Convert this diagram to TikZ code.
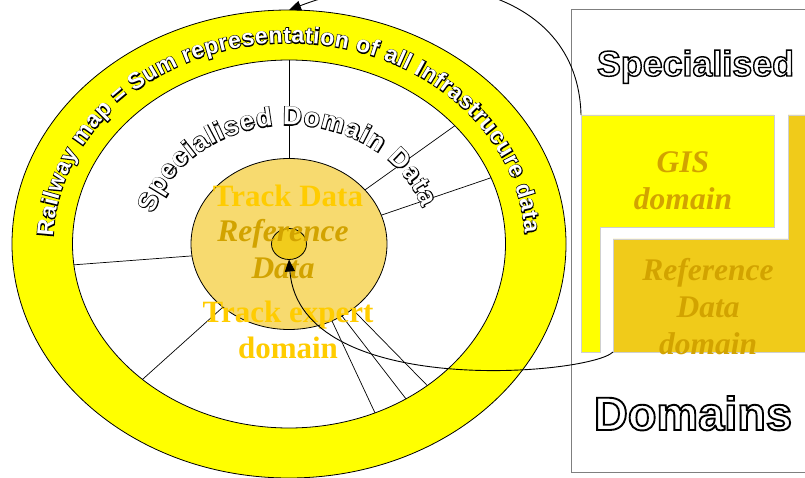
\documentclass[tikz,border=0pt]{standalone}
\usepackage{fontspec}
\setmainfont{Liberation Serif}
\newfontfamily\outlinesans{Liberation Sans Bold}[FakeBold=4]
\newfontfamily\haloarc{Liberation Sans Bold}[FakeBold=7]
\newfontfamily\plainarc{Liberation Sans Bold}
\usetikzlibrary{shapes.geometric,decorations.text,arrows.meta}

\definecolor{ringyellow}{HTML}{FFFF00}
\definecolor{trackfill}{HTML}{F7DA6F}
\definecolor{corefill}{HTML}{F1CC1C}
\definecolor{refboxfill}{HTML}{F0CB1A}
\definecolor{goldtext}{HTML}{FFCC00}
\definecolor{darkgold}{HTML}{D2A300}
\definecolor{framegray}{HTML}{7F7F7F}
\definecolor{edgegray}{HTML}{CFCFCF}

% glyph outlines are stroked in black while the fill stays white
\newcommand\blackstroke{\special{pdf:literal direct 0 0 0 RG}}

% outlined lettering set along an elliptic arc round (C):
% a heavy black pass underneath, then the white letters on top
% #1 font size, #2 x radius, #3 y radius, #4 start angle, #5 end angle, #6 text
\newcommand\arclabel[6]{%
  \path[decorate, decoration={text along path,
      text={|\haloarc\fontsize{#1}{#1}\selectfont|#6},
      text align={fit to path}, text color=black}]
    ([shift={(#4:#2 and #3)}]C)
    arc[start angle=#4, end angle=#5, x radius=#2, y radius=#3];
  \path[decorate, decoration={text along path,
      text={|\plainarc\fontsize{#1}{#1}\selectfont|#6},
      text align={fit to path}, text color=white}]
    ([shift={(#4:#2 and #3)}]C)
    arc[start angle=#4, end angle=#5, x radius=#2, y radius=#3];
}

\tikzset{
  ringshape/.style={ellipse, draw=black, line width=0.8pt, inner sep=0pt, outer sep=0pt},
  spoke/.style={draw=black, line width=0.7pt},
  goldlabel/.style={text=goldtext, font=\bfseries\fontsize{31pt}{36pt}\selectfont, align=center, inner sep=0pt},
  reflabel/.style={text=darkgold, font=\bfseries\itshape\fontsize{31.5pt}{37pt}\selectfont, align=center, inner sep=0pt},
  linkarrow/.style={draw=black, line width=0.9pt, -{Triangle[length=12pt,width=10pt]}},
  domainbox/.style={draw=edgegray, line width=0.6pt},
  outlinetitle/.style={text=white, inner sep=0pt, anchor=base}
}

\begin{document}
\begin{tikzpicture}[x=1pt,y=1pt]
\useasboundingbox (0,0) rectangle (805,477);
\coordinate (C) at (289,233);

% nested rings of the railway map
\node[ringshape, fill=ringyellow, minimum width=554pt, minimum height=468pt] (ring) at (C) {};
\node[ringshape, fill=white, minimum width=433pt, minimum height=368pt] (sector) at (C) {};

% spokes separating the specialised domains
\foreach \a/\b in {90/90, 39.2/40, 19.7/21.1, 188/186.5, 227.6/227.4, -64/-66.6, -57.3/-57.3, -49.7/-50.3}
  \draw[spoke] ([shift={(\a:98 and 85.5)}]C) -- ([shift={(\b:216.5 and 184)}]C);

\node[ringshape, fill=trackfill, minimum width=196pt, minimum height=171pt] (track) at (C) {};
\node[ringshape, fill=corefill, minimum width=35pt, minimum height=31pt] (core) at (C) {};

% curved captions
\arclabel{23pt}{236}{201}{178}{3}{Railway map = Sum representation of all Infrastrucure data}
\arclabel{26pt}{140}{119}{165}{18}{Specialised Domain Data}

% labels in the centre
\node[goldlabel, anchor=base] (trackdata) at (288,270) {Track Data};
\node[reflabel] (refdata) at (283,228) {Reference\\Data};
\node[goldlabel] (trackexpert) at (288,147.5) {Track expert\\domain};

% domain panel on the right
\draw[draw=framegray, line width=1pt] (571,467) rectangle (830,5);
\node[outlinetitle, font=\outlinesans\fontsize{35.8pt}{40pt}\selectfont] (spec) at (695.5,401) {\blackstroke Specialised};
\node[outlinetitle, font=\outlinesans\fontsize{46.9pt}{52pt}\selectfont] (domains) at (693,47) {\blackstroke Domains};

\draw[domainbox, fill=ringyellow] (581,362) -- (774,362) -- (774,250) -- (600,250) -- (600,125) -- (581,125) -- cycle;
\draw[domainbox, fill=refboxfill] (613,238) -- (788,238) -- (788,362) -- (830,362) -- (830,125) -- (613,125) -- cycle;
\coordinate (giscorner) at (581,362);
\coordinate (refcorner) at (613,125);

\node[reflabel] (gis) at (683,296.4) {GIS\\domain};
\node[reflabel] (refdomain) at (708,170.4) {Reference\\Data\\domain};

% links between the panel and the map
\draw[linkarrow] (giscorner) .. controls (578,492) and (420,517) .. (ring.north);
\draw[linkarrow] (refcorner) .. controls (590,102) and (300,77) .. (core.south);
\end{tikzpicture}
\end{document}
